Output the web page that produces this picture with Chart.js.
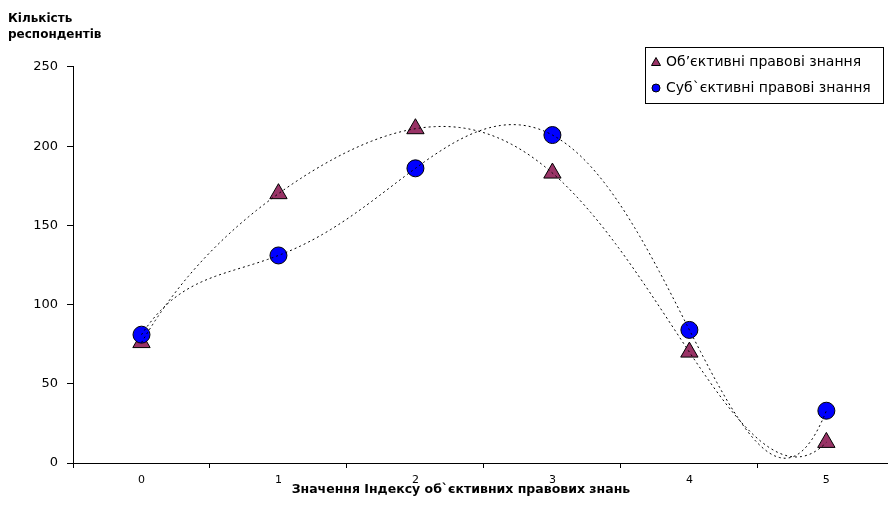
<!DOCTYPE html>
<html>
<head>
<meta charset="utf-8">
<script src="https://cdn.jsdelivr.net/npm/chart.js@4/dist/chart.umd.min.js"></script>
<style>
  html, body { margin: 0; padding: 0; overflow: hidden; background: #fff; }
  #chart { display: block; }
</style>
</head>
<body>
<canvas id="chart" width="888" height="516"></canvas>
<script>
var categories = ['0', '1', '2', '3', '4', '5'];
var objectiveValues = [76, 170, 211, 183, 70, 13];
var subjectiveValues = [81, 131, 186, 207, 84, 33];
var yTicks = [0, 50, 100, 150, 200, 250];

var fontFamily = '"DejaVu Sans", "Liberation Sans", Arial, sans-serif';

function toPoints(values) {
  return values.map(function (v, i) { return { x: i, y: v }; });
}

// polynomial trendline (order 5, as in the source spreadsheet) drawn over the markers
var trendlinePlugin = {
  id: 'trendline',
  afterDatasetsDraw: function (chart) {
    var ctx = chart.ctx;
    var xScale = chart.scales.x;
    var yScale = chart.scales.y;
    chart.data.datasets.forEach(function (ds) {
      var xs = ds.data.map(function (p) { return p.x; });
      var ys = ds.data.map(function (p) { return p.y; });
      var polyAt = function (x) {
        var s = 0;
        for (var i = 0; i < xs.length; i++) {
          var l = 1;
          for (var j = 0; j < xs.length; j++) {
            if (j !== i) l *= (x - xs[j]) / (xs[i] - xs[j]);
          }
          s += ys[i] * l;
        }
        return s;
      };
      ctx.save();
      ctx.beginPath();
      ctx.strokeStyle = '#000';
      ctx.lineWidth = 1;
      ctx.setLineDash([2, 3]);
      var first = xs[0], last = xs[xs.length - 1];
      for (var k = 0; k <= 250; k++) {
        var x = first + (last - first) * k / 250;
        var px = xScale.getPixelForValue(x);
        var py = yScale.getPixelForValue(polyAt(x));
        if (k === 0) ctx.moveTo(px, py); else ctx.lineTo(px, py);
      }
      ctx.stroke();
      ctx.restore();
    });
  }
};

// boxed legend sitting over the top right corner of the plot
var boxLegendPlugin = {
  id: 'boxLegend',
  afterDraw: function (chart) {
    var ctx = chart.ctx;
    var left = 645, top = 47, width = 238, height = 56;
    ctx.save();
    ctx.fillStyle = '#fff';
    ctx.fillRect(left, top, width, height);
    ctx.strokeStyle = '#000';
    ctx.lineWidth = 1;
    ctx.strokeRect(left + 0.5, top + 0.5, width, height);
    ctx.font = '14px ' + fontFamily;
    ctx.textBaseline = 'middle';
    chart.data.datasets.forEach(function (ds, i) {
      var cy = top + 15 + i * 26;
      var cx = left + 11;
      ctx.beginPath();
      if (ds.pointStyle === 'triangle') {
        ctx.moveTo(cx, cy - 4.5);
        ctx.lineTo(cx + 4.5, cy + 3.5);
        ctx.lineTo(cx - 4.5, cy + 3.5);
        ctx.closePath();
      } else {
        ctx.arc(cx, cy, 4, 0, Math.PI * 2);
      }
      ctx.fillStyle = ds.backgroundColor;
      ctx.fill();
      ctx.strokeStyle = '#000';
      ctx.stroke();
      ctx.fillStyle = '#000';
      ctx.fillText(ds.label, left + 21, cy);
    });
    ctx.restore();
  }
};

new Chart(document.getElementById('chart'), {
  type: 'scatter',
  data: {
    datasets: [{
      label: 'Об’єктивні правові знання',
      data: toPoints(objectiveValues),
      pointStyle: 'triangle',
      pointRadius: 10,
      backgroundColor: '#993366',
      borderColor: '#000',
      pointBorderWidth: 1,
      order: 1
    }, {
      label: 'Суб`єктивні правові знання',
      data: toPoints(subjectiveValues),
      pointStyle: 'circle',
      pointRadius: 8.5,
      backgroundColor: '#0000FF',
      borderColor: '#000',
      pointBorderWidth: 1,
      order: 0
    }]
  },
  options: {
    responsive: false,
    devicePixelRatio: 1,
    animation: false,
    layout: { autoPadding: false, padding: { left: 8, right: 0, top: 0, bottom: 0 } },
    plugins: {
      legend: { display: false },
      tooltip: { enabled: false },
      title: {
        display: true,
        text: ['Кількість', 'респондентів'],
        align: 'start',
        color: '#000',
        font: { family: fontFamily, size: 12, weight: 'bold', lineHeight: 1.33 },
        padding: { top: 11, bottom: 24 }
      }
    },
    scales: {
      x: {
        type: 'linear',
        min: -0.5,
        max: 5.45,
        afterFit: function (s) {
          s.height = 53;
          s.paddingLeft = 0;
          s.paddingRight = 0;
        },
        // category labels sit on whole numbers, tick marks between them
        afterBuildTicks: function (s) {
          var t = [];
          for (var i = 0; i < categories.length; i++) {
            t.push({ value: i - 0.5 });
            t.push({ value: i });
          }
          s.ticks = t;
        },
        border: { display: true, color: '#000', width: 1 },
        grid: {
          drawOnChartArea: false,
          drawTicks: true,
          tickLength: 5,
          color: function (c) {
            return c.tick && Number.isInteger(c.tick.value) ? 'rgba(0,0,0,0)' : '#000';
          }
        },
        ticks: {
          color: '#000',
          padding: 6,
          autoSkip: false,
          maxRotation: 0,
          font: { family: fontFamily, size: 11 },
          callback: function (v) {
            return Number.isInteger(v) ? categories[v] : '';
          }
        },
        title: {
          display: true,
          text: 'Значення Індексу об`єктивних правових знань\u00a0\u00a0\u00a0\u00a0\u00a0\u00a0\u00a0\u00a0\u00a0',
          color: '#000',
          font: { family: fontFamily, size: 12.5, weight: 'bold' },
          padding: { top: 4, bottom: 19 }
        }
      },
      y: {
        min: 0,
        max: 250,
        afterFit: function (s) {
          s.width = 65;
        },
        afterBuildTicks: function (s) { s.ticks = yTicks.map(function (v) { return { value: v }; }); },
        border: { display: true, color: '#000', width: 1 },
        grid: { drawOnChartArea: false, drawTicks: true, tickLength: 6, color: '#000' },
        ticks: { color: '#000', padding: 9, font: { family: fontFamily, size: 13 } }
      }
    }
  },
  plugins: [trendlinePlugin, boxLegendPlugin]
});
</script>
</body>
</html>
